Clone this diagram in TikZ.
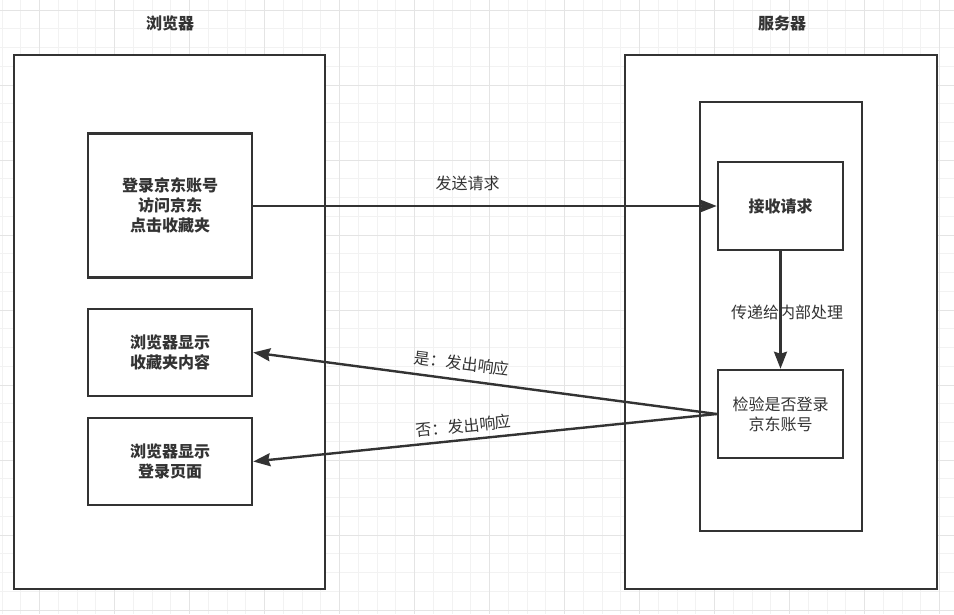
\documentclass[tikz,border=0pt]{standalone}
\usepackage{fontspec}
\newfontfamily\cjk{Noto Sans CJK SC}
\usetikzlibrary{arrows.meta}
\definecolor{ink}{HTML}{333333}
\definecolor{gridminor}{HTML}{F2F2F2}
\definecolor{gridmajor}{HTML}{E4E4E4}
\tikzset{
  boxstyle/.style={draw=ink, line width=2.6pt, fill=white, rectangle, inner sep=0pt, align=center, text=ink},
  titlestyle/.style={text=ink, font=\cjk\bfseries\fontsize{16}{20}\selectfont, inner sep=0pt},
  lbl/.style={text=ink, font=\cjk\fontsize{16}{20}\selectfont, inner sep=0pt},
  arr/.style={draw=ink, line width=2.4pt, -{Stealth[length=17pt, width=13pt, inset=2pt]}},
  gminor/.style={draw=gridminor, line width=1pt},
  gmajor/.style={draw=gridmajor, line width=1pt}
}
\begin{document}
\begin{tikzpicture}[x=1pt, y=-1pt]
\useasboundingbox (0,0) rectangle (954,614);
\fill[white] (0,0) rectangle (954,614);
% grid
\foreach \k in {0,...,50} {
  \pgfmathsetmacro\xx{2+18.75*\k}
  \draw[gminor] (\xx,0) -- (\xx,614);
}
\foreach \k in {0,...,32} {
  \pgfmathsetmacro\yy{10+18.75*\k}
  \draw[gminor] (0,\yy) -- (954,\yy);
}
\foreach \k in {0,...,12} {
  \pgfmathsetmacro\xx{39.5+75*\k}
  \draw[gmajor] (\xx,0) -- (\xx,614);
}
\foreach \k in {0,...,8} {
  \pgfmathsetmacro\yy{10+75*\k}
  \draw[gmajor] (0,\yy) -- (954,\yy);
}
% titles
\node[titlestyle] (tbrowser) at (170,23.5) {浏览器};
\node[titlestyle] (tserver) at (782,23.5) {服务器};
% outer boxes
\node[boxstyle, minimum width=311pt, minimum height=534pt] (browser) at (169.5,322) {};
\node[boxstyle, minimum width=312pt, minimum height=534pt] (server) at (781,322) {};
\node[boxstyle, minimum width=162pt, minimum height=429pt] (inner) at (781,316.5) {};
% browser boxes
\node[boxstyle, minimum width=164pt, minimum height=144pt, font=\cjk\bfseries\fontsize{16}{20}\selectfont] (b1) at (170,205.5) {登录京东账号\\访问京东\\点击收藏夹};
\node[boxstyle, minimum width=164pt, minimum height=87pt, font=\cjk\bfseries\fontsize{16}{20}\selectfont] (b2) at (170,352.5) {浏览器显示\\收藏夹内容};
\node[boxstyle, minimum width=164pt, minimum height=87pt, font=\cjk\bfseries\fontsize{16}{20}\selectfont] (b3) at (170,461.5) {浏览器显示\\登录页面};
% server boxes
\node[boxstyle, minimum width=125pt, minimum height=88pt, font=\cjk\bfseries\fontsize{16}{20}\selectfont] (recv) at (780.5,206) {接收请求};
\node[boxstyle, minimum width=125pt, minimum height=88pt, font=\cjk\fontsize{16}{20}\selectfont] (check) at (780.5,414) {检验是否登录\\京东账号};
% connectors
\draw[arr] (b1.east |- recv.west) -- (recv.west);
\draw[arr] (recv.south) -- (check.north);
\draw[arr] (check.west) -- (b2.east);
\draw[arr] (check.west) -- (b3.east);
% labels
\node[lbl] (l1) at (467.5,183) {发送请求};
\node[lbl] (l2) at (787,312) {传递给内部处理};
\node[lbl, rotate=-7.2] (l3) at (462,363) {是：发出响应};
\node[lbl, rotate=5.9] (l4) at (463.5,426) {否：发出响应};
\end{tikzpicture}
\end{document}
